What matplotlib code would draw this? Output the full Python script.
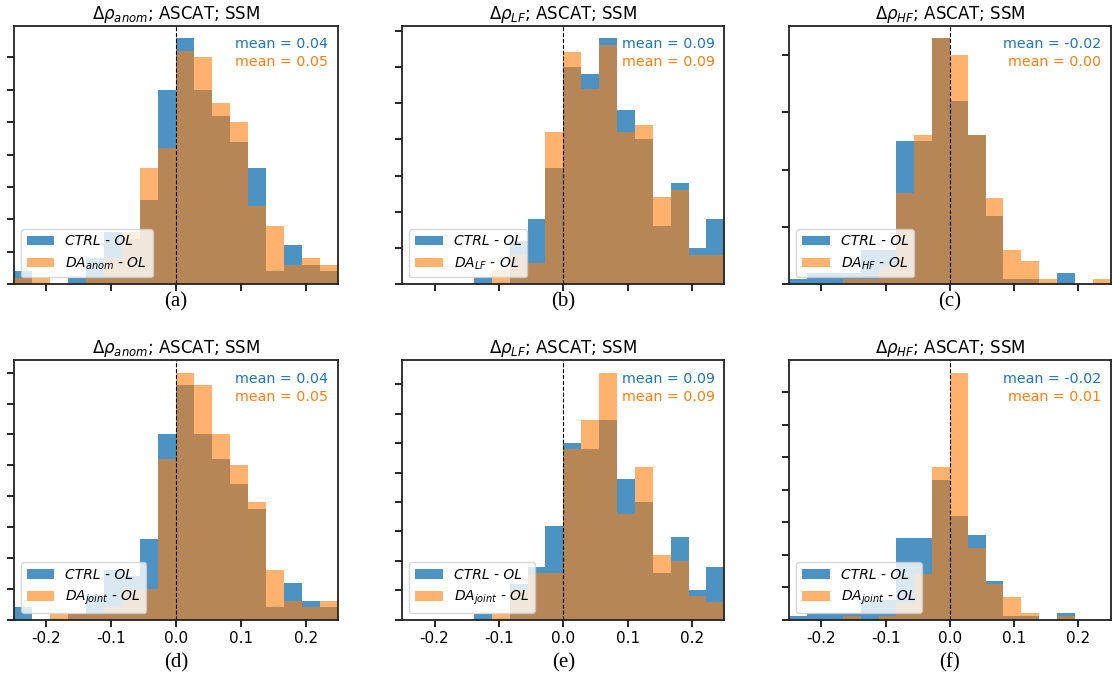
import numpy as np
import matplotlib
matplotlib.use("Agg")
import matplotlib.pyplot as plt
from matplotlib.ticker import MultipleLocator

# ---------------- data (counts per bin) ----------------
bin_edges = np.linspace(-0.25, 0.25, 19)
xticks = [-0.2, -0.1, 0.0, 0.1, 0.2]

ctrl_anom = [2, 0, 0, 1, 4, 8, 7, 13, 30, 38, 30, 26, 22, 18, 2, 6, 3, 2]
da_anom = [1, 1, 0, 0, 1, 4, 8, 18, 21, 36, 35, 28, 25, 12, 9, 3, 4, 3]
da_joint_anom = [0, 0, 1, 1, 1, 2, 5, 5, 26, 40, 38, 30, 25, 19, 8, 3, 2, 3]

ctrl_lf = [0, 0, 0, 0, 1, 0, 6, 9, 16, 30, 29, 34, 24, 20, 8, 14, 5, 9]
da_lf = [0, 0, 0, 0, 0, 2, 4, 3, 21, 32, 27, 33, 21, 22, 12, 13, 4, 4]
da_joint_lf = [0, 0, 0, 0, 0, 1, 5, 8, 8, 29, 34, 42, 18, 26, 11, 10, 4, 3]

ctrl_hf = [1, 2, 2, 2, 6, 6, 25, 25, 43, 32, 26, 12, 1, 1, 0, 2, 0, 0]
da_hf = [0, 0, 0, 1, 1, 3, 16, 26, 43, 40, 26, 15, 6, 4, 1, 0, 0, 1]
da_joint_hf = [0, 0, 0, 1, 0, 1, 5, 14, 47, 76, 22, 11, 7, 2, 0, 1, 0, 0]

titles = [r"$\Delta\rho_{anom}$; ASCAT; SSM", r"$\Delta\rho_{LF}$; ASCAT; SSM",
          r"$\Delta\rho_{HF}$; ASCAT; SSM"]
da_labels_top = [r"$DA_{anom}$ - OL", r"$DA_{LF}$ - OL", r"$DA_{HF}$ - OL"]
da_label_joint = r"$DA_{joint}$ - OL"
ctrl_label = "CTRL - OL"
ctrl_means = ["0.04", "0.09", "-0.02", "0.04", "0.09", "-0.02"]
da_means = ["0.05", "0.09", "0.00", "0.05", "0.09", "0.01"]
panel_letters = ["(a)", "(b)", "(c)", "(d)", "(e)", "(f)"]
ytick_steps = [5, 5, 10, 5, 5, 10]

# ---------------- figure ----------------
W, H = 1112, 679
plt.rcParams["mathtext.fontset"] = "dejavusans"
plt.rcParams["axes.unicode_minus"] = False
fig = plt.figure(figsize=(W / 100, H / 100), dpi=100)

lefts = [14, 402.3, 789.3]
rights = [338, 724.3, 1110.5]
tops = [25.5, 360.3]
bottoms = [284.3, 619.7]
label_y = [302, 663]

ctrl_sets = [ctrl_anom, ctrl_lf, ctrl_hf]
da_sets = [[da_anom, da_lf, da_hf], [da_joint_anom, da_joint_lf, da_joint_hf]]

centers = 0.5 * (bin_edges[:-1] + bin_edges[1:])

for r in range(2):
    for c in range(3):
        i = r * 3 + c
        l, rr, t, b = lefts[c], rights[c], tops[r], bottoms[r]
        ax = fig.add_axes([l / W, 1 - b / H, (rr - l) / W, (b - t) / H])
        ax.hist(centers, bins=bin_edges, weights=ctrl_sets[c], color="C0",
                alpha=0.8, label=ctrl_label)
        da_lab = da_labels_top[c] if r == 0 else da_label_joint
        ax.hist(centers, bins=bin_edges, weights=da_sets[r][c], color="C1",
                alpha=0.6, label=da_lab)
        ax.axvline(0, color="k", ls="--", lw=0.8)
        ax.set_xlim(-0.25, 0.25)
        ax.set_xticks(xticks)
        ax.yaxis.set_major_locator(MultipleLocator(ytick_steps[i]))
        ax.tick_params(axis="both", direction="out", length=5, width=1.2,
                       labelsize=11, colors="k", pad=3)
        ax.tick_params(axis="y", labelleft=False)
        if r == 0:
            ax.tick_params(axis="x", labelbottom=False)
        for sp in ax.spines.values():
            sp.set_linewidth(1.3)
            sp.set_color("#222222")
        ax.set_title(titles[c], fontsize=12, pad=5)
        ax.text(0.97, 0.955, "mean = " + ctrl_means[i], color="C0",
                transform=ax.transAxes, ha="right", va="top", fontsize=10.3)
        ax.text(0.97, 0.885, "mean = " + da_means[i], color="C1",
                transform=ax.transAxes, ha="right", va="top", fontsize=10.3)
        ax.legend(loc="lower left", prop={"style": "italic", "size": 10},
                  borderaxespad=0.5)
        fig.text((l + rr) / 2 / W, 1 - label_y[r] / H, panel_letters[i],
                 ha="center", va="center", fontsize=15,
                 family="Liberation Serif")

fig.savefig("out.png", dpi=100)
